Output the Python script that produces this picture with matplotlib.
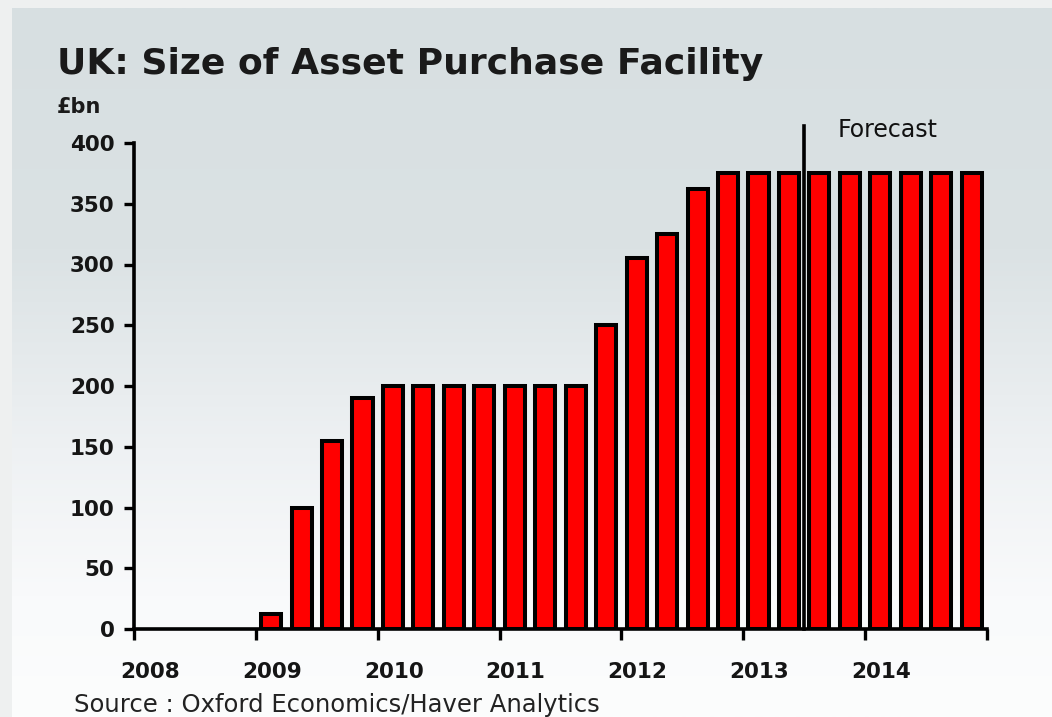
import numpy as np
import matplotlib
matplotlib.use("Agg")
import matplotlib.pyplot as plt
from matplotlib.colors import LinearSegmentedColormap
from matplotlib.transforms import ScaledTranslation

# ---- data ----
quarters = ["2008Q1", "2008Q2", "2008Q3", "2008Q4",
            "2009Q1", "2009Q2", "2009Q3", "2009Q4",
            "2010Q1", "2010Q2", "2010Q3", "2010Q4",
            "2011Q1", "2011Q2", "2011Q3", "2011Q4",
            "2012Q1", "2012Q2", "2012Q3", "2012Q4",
            "2013Q1", "2013Q2", "2013Q3", "2013Q4",
            "2014Q1", "2014Q2", "2014Q3", "2014Q4"]
apf_bn = [0, 0, 0, 0,
          12, 100, 155, 190,
          200, 200, 200, 200,
          200, 200, 200, 250,
          305, 325, 362, 375,
          375, 375, 375, 375,
          375, 375, 375, 375]
year_ticks = [2008, 2009, 2010, 2011, 2012, 2013, 2014, 2015]
year_labels = ["2008", "2009", "2010", "2011", "2012", "2013", "2014", ""]
y_ticks = [0, 50, 100, 150, 200, 250, 300, 350, 400]
forecast_start = 2013.5

title = "UK: Size of Asset Purchase Facility"
unit_label = "£bn"
forecast_label = "Forecast"
source = "Source : Oxford Economics/Haver Analytics"

# ---- figure ----
W, H = 1052, 717
fig = plt.figure(figsize=(W / 100, H / 100), dpi=100)
fig.patch.set_facecolor("#eef0f0")

# gradient background
bg = fig.add_axes([12 / W, 0, 1 - 12 / W, 1 - 8 / H], zorder=0)
cmap = LinearSegmentedColormap.from_list(
    "bg", [(0.0, "#fcfdfd"), (0.17, "#f9fafb"), (0.38, "#eef1f3"),
           (0.66, "#dbe2e4"), (1.0, "#d7dfe1")])
grad = np.linspace(0, 1, 256).reshape(-1, 1)
bg.imshow(grad, aspect="auto", cmap=cmap, origin="lower", extent=[0, 1, 0, 1])
bg.set_axis_off()

ax = fig.add_axes([134 / W, 1 - 629 / H, (987 - 134) / W, (629 - 143) / H], zorder=1)
ax.patch.set_alpha(0)

# quarter centres
years = np.array([int(q[:4]) for q in quarters])
qnum = np.array([int(q[-1]) for q in quarters])
xpos = years + (qnum - 0.5) / 4.0

vals = np.array(apf_bn, dtype=float)
mask = vals > 0
ax.bar(xpos[mask], vals[mask], width=0.25 * 0.66, color="#ff0000",
       edgecolor="black", linewidth=2.9, zorder=3)

ax.set_xlim(year_ticks[0], year_ticks[-1])
ax.set_ylim(0, 400)

for s in ["top", "right"]:
    ax.spines[s].set_visible(False)
for s in ["left", "bottom"]:
    ax.spines[s].set_linewidth(2.6)
    ax.spines[s].set_color("black")

ax.set_xticks(year_ticks)
ax.set_xticklabels(year_labels)
ax.set_yticks(y_ticks)
ax.set_yticklabels([str(v) for v in y_ticks])
ax.tick_params(axis="x", direction="out", length=8, width=2.4, pad=16,
               labelsize=15.5, colors="black")
ax.tick_params(axis="y", direction="out", length=7, width=2.4, pad=7,
               labelsize=15.5, colors="black")
off = ScaledTranslation(16 / 100, 0, fig.dpi_scale_trans)
for lab in ax.get_xticklabels():
    lab.set_transform(lab.get_transform() + off)
    lab.set_color("#151515")
    lab.set_fontweight("bold")
for lab in ax.get_yticklabels():
    lab.set_color("#151515")
    lab.set_fontweight("bold")

# forecast line
ax.plot([forecast_start, forecast_start], [0, 414], color="black",
        linewidth=2.6, clip_on=False, zorder=2)
ax.text(2013.775, 411, forecast_label, ha="left", va="center",
        fontsize=17, color="#111111")

# texts
fig.text(57 / W, 1 - 74 / H, title, ha="left", va="baseline",
         fontsize=26, fontweight="bold", color="#1a1a1a")
fig.text(57 / W, 1 - 113 / H, unit_label, ha="left", va="baseline",
         fontsize=15, fontweight="bold", color="#1a1a1a")
fig.text(74 / W, 1 - 712 / H, source, ha="left", va="baseline",
         fontsize=17.5, color="#222222")

fig.savefig("out.png", dpi=100)
